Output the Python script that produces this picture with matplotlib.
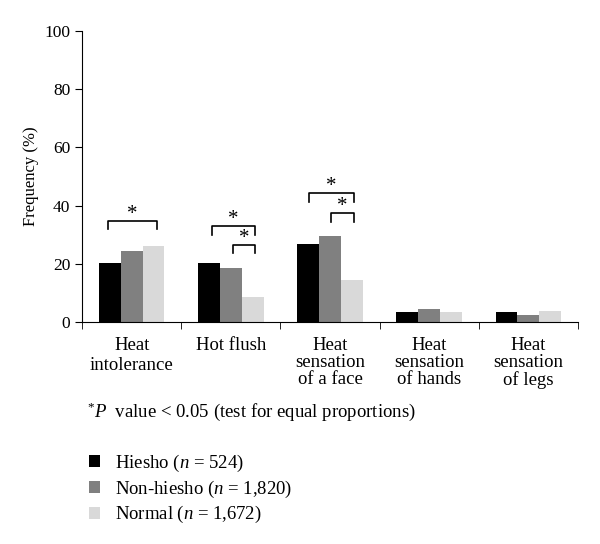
import matplotlib.pyplot as plt
import numpy as np

plt.rcParams['font.family'] = ['Liberation Serif', 'DejaVu Serif']
plt.rcParams['mathtext.fontset'] = 'custom'
plt.rcParams['mathtext.rm'] = 'Liberation Serif'
plt.rcParams['mathtext.it'] = 'Liberation Serif:italic'

categories = ["Heat\nintolerance", "Hot flush", "Heat\nsensation\nof a face",
              "Heat\nsensation\nof hands", "Heat\nsensation\nof legs"]
hiesho = [20.3, 20.3, 26.8, 3.3, 3.5]
non_hiesho = [24.4, 18.5, 29.6, 4.5, 2.5]
normal = [26.1, 8.5, 14.4, 3.3, 3.8]
labels = [r"Hiesho ($\mathit{n}$ = 524)", r"Non-hiesho ($\mathit{n}$ = 1,820)",
          r"Normal ($\mathit{n}$ = 1,672)"]
colors = ["#000000", "#808080", "#d9d9d9"]

# significance brackets: (category, left offset, right offset, height)
brackets = [(0, -0.24, 0.25, 34.8), (1, -0.19, 0.24, 33.0), (1, 0.02, 0.24, 26.6),
            (2, -0.21, 0.24, 44.4), (2, 0.01, 0.24, 37.5)]

fig = plt.figure(figsize=(6, 5.44), dpi=100)
ax = fig.add_axes([0.137, 0.408, 0.826, 0.535])

x = np.arange(len(categories))
w = 0.22
handles = []
for i, vals in enumerate([hiesho, non_hiesho, normal]):
    b = ax.bar(x + (i - 1) * w, vals, w, color=colors[i], label=labels[i])
    handles.append(b)

for c, l, r, h in brackets:
    ax.plot([c + l, c + l, c + r, c + r], [h - 3, h, h, h - 3], color="black", lw=1.2)
    ax.text(c + (l + r) / 2, h + 2.2, "*", ha="center", va="center", fontsize=15)

ax.set_xlim(-0.5, 4.5)
ax.set_ylim(0, 100)
ax.set_yticks(range(0, 101, 20))
ax.set_xticks(x)
ax.set_xticklabels(categories, fontsize=13.5, linespacing=0.98)
ax.get_xticklabels()[0].set_linespacing(1.2)
ax.set_xticks(np.arange(-0.5, 5, 1), minor=True)
ax.tick_params(axis="x", which="major", length=0, pad=11)
ax.tick_params(axis="x", which="minor", length=5, direction="out")
ax.tick_params(axis="y", length=5, direction="out", labelsize=12.5)
ax.spines["top"].set_visible(False)
ax.spines["right"].set_visible(False)
ax.set_ylabel("Frequency (%)", fontsize=12)

fig.text(0.145, 0.243, r"$^{*}\mathit{P}$  value < 0.05 (test for equal proportions)",
         fontsize=13.5, va="center")

fig.legend(handles=handles, loc="upper left", bbox_to_anchor=(0.148, 0.168),
           frameon=False, fontsize=13.5, handlelength=0.6, handleheight=0.6,
           handletextpad=0.8, labelspacing=0.25, borderaxespad=0, borderpad=0)

fig.savefig("out.png", dpi=100)
